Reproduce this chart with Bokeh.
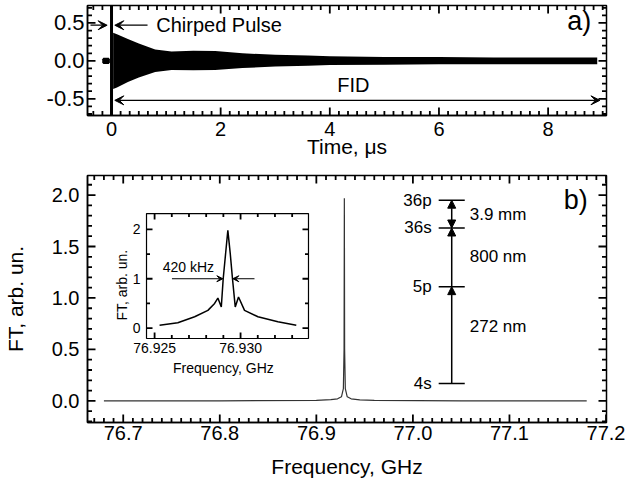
import math
from bokeh.plotting import figure
from bokeh.models import (Range1d, SingleIntervalTicker, NumeralTickFormatter,
                          Label, Arrow, VeeHead, NormalHead)
from bokeh.layouts import column
from bokeh.embed import file_html
from bokeh.resources import INLINE
from bokeh.core.properties import value

FONT = "Liberation Sans"

# ---------------- data: panel a) time-domain signal (envelope of the FID band) ----------------
fid_t = [0.03, 0.1, 0.3, 0.5, 0.8, 1.1, 1.5, 1.9, 2.4, 3.0, 3.6, 4.0, 5.0, 6.0, 7.0, 8.0, 8.9]
fid_hi = [0.37, 0.35, 0.29, 0.23, 0.15, 0.125, 0.135, 0.13, 0.10, 0.08, 0.07, 0.06, 0.05, 0.05, 0.045, 0.045, 0.045]
fid_lo = [-0.37, -0.35, -0.28, -0.22, -0.145, -0.12, -0.125, -0.12, -0.095, -0.075, -0.065, -0.055, -0.05, -0.045, -0.045, -0.045, -0.045]
pre_t = [-0.17, -0.15, -0.05, -0.03]
pre_hi = [0.02, 0.04, 0.04, 0.02]
pre_lo = [-0.02, -0.04, -0.04, -0.02]
chirp_t = [0.0]
chirp_lo = [-0.8]
chirp_hi = [0.8]

# ---------------- data: panel b) spectrum ----------------
main_f = [76.68, 76.80, 76.90, 76.915, 76.922, 76.926, 76.928, 76.9287, 76.929, 76.9293,
          76.930, 76.932, 76.936, 76.945, 76.96, 77.05, 77.18]
main_ft = [0.0, 0.0, 0.005, 0.012, 0.02, 0.04, 0.12, 0.5, 1.97, 0.5,
           0.12, 0.04, 0.02, 0.01, 0.005, 0.0, 0.0]

inset_f = [76.92529, 76.92635, 76.92733, 76.9281, 76.92849, 76.92868, 76.92888, 76.92899,
           76.92913, 76.92926, 76.9294, 76.92953, 76.92969, 76.92988, 76.93023, 76.93101,
           76.93217, 76.93324]
inset_ft = [0.06, 0.11, 0.23, 0.36, 0.50, 0.61, 0.43, 1.0, 1.51, 1.98, 1.51, 1.0, 0.43, 0.63,
            0.36, 0.23, 0.13, 0.06]

inset_xticks = [76.925, 76.930]
inset_xlabels = ["76.925", "76.930"]
inset_xminor = [76.926, 76.927, 76.928, 76.929, 76.931, 76.932, 76.933]
inset_yticks = [0.0, 1.0, 2.0]
inset_ylabels = ["0", "1", "2"]
inset_yminor = [0.5, 1.5]

level_names = ["4s", "5p", "36s", "36p"]
level_y = [0.17, 1.11, 1.68, 1.95]
trans_names = ["272 nm", "800 nm", "3.9 mm"]
trans_label_y = [0.725, 1.405, 1.81]

# tick positions of the two main panels
a_xmaj = [0.0, 2.0, 4.0, 6.0, 8.0]
a_xmin = [k / 6 for k in range(-2, 55) if k % 12 != 0]
a_ymaj = [-0.5, 0.0, 0.5]
a_ymin = [k / 10 for k in range(-7, 8) if k % 5 != 0]
b_xmaj = [k / 10 for k in range(767, 773)]
b_xmin = [k / 100 for k in range(7667, 7721) if k % 10 != 0]
b_ymaj = [0.0, 0.5, 1.0, 1.5, 2.0]
b_ymin = [k / 10 for k in range(-2, 22) if k % 5 != 0]

FW = 519


def style_axis(ax, size, standoff):
    ax.major_tick_in = 0
    ax.major_tick_out = 0
    ax.minor_tick_in = 0
    ax.minor_tick_out = 0
    ax.axis_line_color = "black"
    ax.axis_line_width = 1.5
    ax.major_label_text_font = FONT
    ax.major_label_text_font_size = size
    ax.major_label_text_color = "black"
    ax.major_label_standoff = standoff
    ax.axis_label_text_font = FONT
    ax.axis_label_text_font_style = "normal"
    ax.axis_label_text_color = "black"


def frame_ticks(p, xr, yr, wpx, hpx, xmaj, xmin, ymaj, ymin, maj=8.0, mnr=4.5, **rn):
    """Inward ticks on all four sides, drawn as short segments starting at the frame edge."""
    dx = (xr[1] - xr[0]) / wpx
    dy = (yr[1] - yr[0]) / hpx
    kw = dict(line_color="black", line_width=1.8, **rn)
    for xs, ln in ((xmaj, maj), (xmin, mnr)):
        n = len(xs)
        p.segment(x0=xs, y0=[yr[0]] * n, x1=xs, y1=[yr[0] + ln * dy] * n, **kw)
        p.segment(x0=xs, y0=[yr[1]] * n, x1=xs, y1=[yr[1] - ln * dy] * n, **kw)
    for ys, ln in ((ymaj, maj), (ymin, mnr)):
        n = len(ys)
        p.segment(x0=[xr[0]] * n, y0=ys, x1=[xr[0] + ln * dx] * n, y1=ys, **kw)
        p.segment(x0=[xr[1]] * n, y0=ys, x1=[xr[1] - ln * dx] * n, y1=ys, **kw)


def base_fig(xr, yr, fh, mt, mb):
    p = figure(frame_width=FW, frame_height=fh, x_range=Range1d(*xr), y_range=Range1d(*yr),
               output_backend="svg", toolbar_location=None,
               min_border_left=83, min_border_right=23, min_border_top=mt, min_border_bottom=mb,
               background_fill_color="white", border_fill_color="white")
    p.xgrid.visible = False
    p.ygrid.visible = False
    p.outline_line_color = "black"
    p.outline_line_width = 1.5
    return p


# ---------------- panel a ----------------
AX = (-0.44, 9.07)
AY = (-0.72, 0.73)
AH = 110
p1 = base_fig(AX, AY, AH, 5, 52)
p1.xaxis[0].ticker = SingleIntervalTicker(interval=2, num_minor_ticks=12)
p1.yaxis[0].ticker = SingleIntervalTicker(interval=0.5, num_minor_ticks=5)
p1.xaxis[0].formatter = NumeralTickFormatter(format="0")
p1.yaxis[0].formatter = NumeralTickFormatter(format="0.0")
style_axis(p1.xaxis[0], "20px", 6)
style_axis(p1.yaxis[0], "22px", 3)
p1.xaxis[0].axis_label = "Time, μs"
p1.xaxis[0].axis_label_text_font_size = "21px"
p1.xaxis[0].axis_label_standoff = -4

p1.varea(x=fid_t, y1=fid_lo, y2=fid_hi, fill_color="black")
p1.varea(x=pre_t, y1=pre_lo, y2=pre_hi, fill_color="black")
p1.segment(x0=chirp_t, y0=chirp_lo, x1=chirp_t, y1=chirp_hi, line_width=3, line_color="black")
frame_ticks(p1, AX, AY, FW, AH, a_xmaj, a_xmin, a_ymaj, a_ymin)

head = dict(size=9, fill_color="black", line_color="black")
p1.add_layout(Arrow(end=VeeHead(**head), x_start=-0.385, y_start=0.47, x_end=-0.08, y_end=0.47,
                    line_width=1.2, line_color="black"))
p1.add_layout(Arrow(end=VeeHead(**head), x_start=0.66, y_start=0.47, x_end=0.06, y_end=0.47,
                    line_width=1.2, line_color="black"))
p1.add_layout(Arrow(start=VeeHead(**head), end=VeeHead(**head), x_start=0.06, y_start=-0.52,
                    x_end=8.95, y_end=-0.52, line_width=1.2, line_color="black"))
p1.add_layout(Label(x=0.82, y=0.47, text="Chirped Pulse", text_align="left", text_baseline="middle",
                    text_font=FONT, text_font_size="20px", text_color="black"))
p1.add_layout(Label(x=4.43, y=-0.32, text="FID", text_align="center", text_baseline="middle",
                    text_font=FONT, text_font_size="20px", text_color="black"))
p1.add_layout(Label(x=8.57, y=0.52, text="a)", text_align="center", text_baseline="middle",
                    text_font=FONT, text_font_size="27px", text_color="black"))
p1.add_layout(Label(x=-65, y=27, x_units="screen", y_units="screen", angle=math.pi / 2,
                    text="CPmmW, arb. un.", text_align="center", text_baseline="middle",
                    text_font=FONT, text_font_size="19px", text_color="black"))

# ---------------- panel b ----------------
BX = (76.663, 77.2005)
BY = (-0.21, 2.19)
BH = 247
p2 = base_fig(BX, BY, BH, 8, 61)
p2.xaxis[0].ticker = SingleIntervalTicker(interval=0.1, num_minor_ticks=10)
p2.yaxis[0].ticker = SingleIntervalTicker(interval=0.5, num_minor_ticks=5)
p2.xaxis[0].formatter = NumeralTickFormatter(format="0.0")
p2.yaxis[0].formatter = NumeralTickFormatter(format="0.0")
style_axis(p2.xaxis[0], "20px", 3)
style_axis(p2.yaxis[0], "20px", 8)
p2.xaxis[0].axis_label = "Frequency, GHz"
p2.xaxis[0].axis_label_text_font_size = "21px"
p2.xaxis[0].axis_label_standoff = 12
p2.yaxis[0].axis_label = "FT, arb. un."
p2.yaxis[0].axis_label_text_font_size = "21px"
p2.yaxis[0].axis_label_standoff = 22

p2.line(x=main_f, y=main_ft, line_color="#333333", line_width=1.2)
frame_ticks(p2, BX, BY, FW, BH, b_xmaj, b_xmin, b_ymaj, b_ymin)

# inset placement (fractions of the main frame) and its data limits
ix0, ix1 = 76.92453, 76.93395
iy0, iy1 = -0.21, 2.32
fx0, fx1 = 0.1137, 0.4258
fy0, fy1 = 0.34, 0.846
sx = (ix1 - ix0) / (fx1 - fx0)
sy = (iy1 - iy0) / (fy1 - fy0)
p2.extra_x_ranges = {"ix": Range1d(ix0 - fx0 * sx, ix0 - fx0 * sx + sx)}
p2.extra_y_ranges = {"iy": Range1d(iy0 - fy0 * sy, iy0 - fy0 * sy + sy)}
IR = dict(x_range_name="ix", y_range_name="iy")

p2.quad(left=[ix0], right=[ix1], bottom=[iy0], top=[iy1], fill_color="white",
        line_color="black", line_width=1.2, **IR)
p2.line(x=inset_f, y=inset_ft, line_color="black", line_width=1.5, **IR)
frame_ticks(p2, (ix0, ix1), (iy0, iy1), (fx1 - fx0) * FW, (fy1 - fy0) * BH,
            inset_xticks, inset_xminor, inset_yticks, inset_yminor, maj=6.0, mnr=3.5, **IR)

small = dict(text_font=value(FONT), text_font_size=value("14px"), text_color="black")
p2.text(x=inset_xticks, y=[iy0] * len(inset_xticks), text=inset_xlabels, text_align="center",
        text_baseline="top", y_offset=4, **small, **IR)
p2.text(x=[ix0] * len(inset_yticks), y=inset_yticks, text=inset_ylabels, text_align="right",
        text_baseline="middle", x_offset=-6, **small, **IR)
p2.text(x=[76.929], y=[iy0], text=["Frequency, GHz"], text_align="center", text_baseline="top",
        y_offset=21, **small, **IR)
p2.text(x=[ix0], y=[0.87], text=["FT, arb. un."], text_align="center", text_baseline="middle",
        x_offset=-25, angle=math.pi / 2, **small, **IR)
p2.add_layout(Label(x=76.92547, y=1.23, text="420 kHz", text_align="left", text_baseline="middle",
                    text_font=FONT, text_font_size="14px", text_color="black", **IR))
ih = dict(size=6, fill_color="black", line_color="black")
p2.add_layout(Arrow(end=VeeHead(**ih), x_start=76.92601, y_start=1.0, x_end=76.92897, y_end=1.0,
                    line_width=1, line_color="black", **IR))
p2.add_layout(Arrow(end=VeeHead(**ih), x_start=76.93081, y_start=1.0, x_end=76.92955, y_end=1.0,
                    line_width=1, line_color="black", **IR))

# energy-level diagram
diag_x = 77.0402
half = 0.0135
p2.segment(x0=[diag_x - half] * len(level_y), y0=level_y, x1=[diag_x + half] * len(level_y),
           y1=level_y, line_color="black", line_width=1.5)
mid = dict(text_font=value(FONT), text_font_size=value("17px"), text_color="black")
p2.text(x=[diag_x - half] * len(level_y), y=level_y, text=level_names, text_align="right",
        text_baseline="middle", x_offset=-7, **mid)
p2.text(x=[diag_x] * len(trans_label_y), y=trans_label_y, text=trans_names, text_align="left",
        text_baseline="middle", x_offset=18, **mid)
nh = dict(size=8, fill_color="black", line_color="black")
p2.add_layout(Arrow(end=NormalHead(**nh), x_start=diag_x, y_start=level_y[0], x_end=diag_x,
                    y_end=level_y[1], line_width=1.5, line_color="black"))
p2.add_layout(Arrow(end=NormalHead(**nh), x_start=diag_x, y_start=level_y[1], x_end=diag_x,
                    y_end=level_y[2], line_width=1.5, line_color="black"))
p2.add_layout(Arrow(start=NormalHead(**nh), end=NormalHead(**nh), x_start=diag_x, y_start=level_y[2],
                    x_end=diag_x, y_end=level_y[3], line_width=1.5, line_color="black"))
p2.add_layout(Label(x=77.1687, y=1.95, text="b)", text_align="center", text_baseline="middle",
                    text_font=FONT, text_font_size="27px", text_color="black"))

layout = column(p1, p2)
open("out.html", "w").write(file_html(layout, INLINE))
